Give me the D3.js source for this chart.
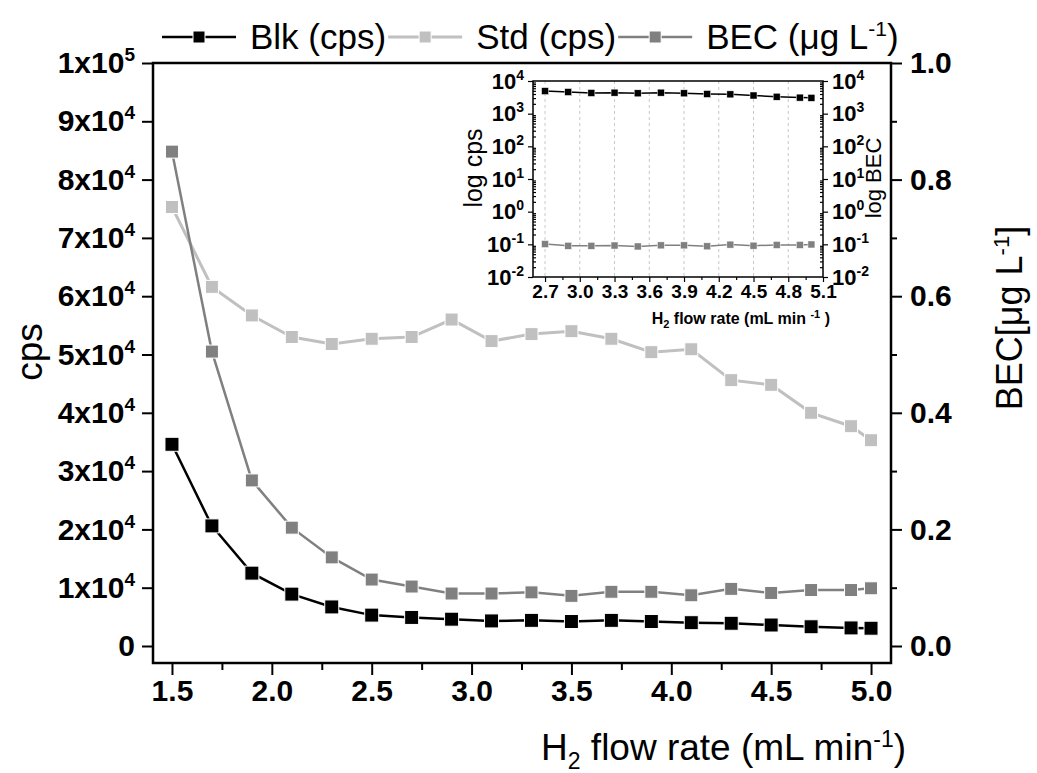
<!DOCTYPE html>
<html>
<head>
<meta charset="utf-8">
<script src="https://cdn.jsdelivr.net/npm/d3@7"></script>
<style>
  body { margin: 0; background: #fff; }
  text { font-family: "Liberation Sans", Arial, sans-serif; }
</style>
</head>
<body>
<div id="chart"></div>
<script>
// data
const flow = [1.5, 1.7, 1.9, 2.1, 2.3, 2.5, 2.7, 2.9, 3.1, 3.3, 3.5, 3.7, 3.9, 4.1, 4.3, 4.5, 4.7, 4.9, 5.0];
const blk = [34600, 20600, 12500, 8900, 6700, 5300, 4900, 4600, 4300, 4400, 4200, 4400, 4200, 4000, 3900, 3600, 3300, 3100, 3050];
const std = [75300, 61600, 56700, 53000, 51800, 52700, 53000, 56000, 52300, 53500, 54000, 52700, 50400, 50900, 45600, 44800, 40000, 37700, 35300];
const bec = [0.848, 0.505, 0.284, 0.203, 0.152, 0.114, 0.102, 0.090, 0.090, 0.092, 0.086, 0.093, 0.093, 0.087, 0.098, 0.091, 0.096, 0.096, 0.099];

const xTicks = [1.5, 2.0, 2.5, 3.0, 3.5, 4.0, 4.5, 5.0];
const cpsTicks = [0, 1e4, 2e4, 3e4, 4e4, 5e4, 6e4, 7e4, 8e4, 9e4, 1e5];
const becTicks = [0, 0.2, 0.4, 0.6, 0.8, 1.0];
const insetXTicks = [2.7, 3.0, 3.3, 3.6, 3.9, 4.2, 4.5, 4.8, 5.1];
const insetYTicks = [1e-2, 1e-1, 1e0, 1e1, 1e2, 1e3, 1e4];
const insetFrom = 6; // inset starts at 2.7

const W = 1037, H = 773;
const frame = { left: 153, right: 891, top: 63, bottom: 663 };

const svg = d3.select("#chart")
              .append("svg")
              .attr("width", W)
              .attr("height", H);

const x = d3.scaleLinear().domain([1.405, 5.1]).range([frame.left, frame.right]);
const y = d3.scaleLinear().domain([-2916, 100000]).range([frame.bottom, frame.top]);
const yR = d3.scaleLinear().domain([-0.02916, 1.0]).range([frame.bottom, frame.top]);

// write "ax10^b" style labels with a real superscript
function supLabel(sel, base, exp, supSize, shift) {
  sel.text(base);
  if (exp !== null)
    sel.append("tspan")
       .attr("dy", -shift)
       .attr("font-size", supSize)
       .text(exp);
}

function styleAxis(g, size, weight) {
  g.select(".domain").remove();
  g.selectAll(".tick line").attr("stroke", "#000").attr("stroke-width", 2);
  g.selectAll(".tick text")
   .attr("font-size", size)
   .attr("font-weight", weight)
   .attr("fill", "#000");
}

// ---- main axes
const gx = svg.append("g")
              .attr("transform", `translate(0,${frame.bottom})`)
              .call(d3.axisBottom(x).tickValues(xTicks).tickSize(12).tickPadding(5)
                                   .tickFormat(d3.format(".1f")));
styleAxis(gx, 30, "bold");

svg.append("g")
   .attr("transform", `translate(0,${frame.bottom})`)
   .call(d3.axisBottom(x).tickValues(d3.range(1.75, 5.0, 0.5)).tickSize(7).tickFormat(""))
   .call(g => styleAxis(g, 30, "bold"));

const gy = svg.append("g")
              .attr("transform", `translate(${frame.left},0)`)
              .call(d3.axisLeft(y).tickValues(cpsTicks).tickSize(11).tickPadding(7));
styleAxis(gy, 30, "bold");
gy.selectAll(".tick text").each(function(d) {
  const t = d3.select(this);
  if (d === 0) t.text("0");
  else if (d === 1e5) supLabel(t, "1x10", "5", 19, 12);
  else supLabel(t, `${d / 1e4}x10`, "4", 19, 12);
});

const gyR = svg.append("g")
               .attr("transform", `translate(${frame.right},0)`)
               .call(d3.axisRight(yR).tickValues(becTicks).tickSize(11).tickPadding(8)
                                     .tickFormat(d3.format(".1f")));
styleAxis(gyR, 30, "bold");

svg.append("g")
   .attr("transform", `translate(${frame.right},0)`)
   .call(d3.axisRight(yR).tickValues([0.1, 0.3, 0.5, 0.7, 0.9]).tickSize(6).tickFormat(""))
   .call(g => styleAxis(g, 30, "bold"));

svg.append("rect")
   .attr("x", frame.left)
   .attr("y", frame.top)
   .attr("width", frame.right - frame.left)
   .attr("height", frame.bottom - frame.top)
   .attr("fill", "none")
   .attr("stroke", "#000")
   .attr("stroke-width", 2.5);

// ---- axis titles
svg.append("text")
   .attr("transform", "translate(42,352) rotate(-90)")
   .attr("text-anchor", "middle")
   .attr("font-size", 37)
   .text("cps");

const rt = svg.append("text")
              .attr("transform", "translate(1022,318) rotate(-90)")
              .attr("text-anchor", "middle")
              .attr("font-size", 36)
              .text("BEC[\u03bcg L");
rt.append("tspan").attr("dy", -13).attr("font-size", 22).text("-1");
rt.append("tspan").attr("dy", 13).text("]");

const xt = svg.append("text")
              .attr("x", 906)
              .attr("y", 760)
              .attr("text-anchor", "end")
              .attr("font-size", 37)
              .text("H");
xt.append("tspan").attr("dy", 9).attr("font-size", 23).text("2");
xt.append("tspan").attr("dy", -9).text(" flow rate (mL min");
xt.append("tspan").attr("dy", -13).attr("font-size", 23).text("-1");
xt.append("tspan").attr("dy", 13).text(")");

// ---- series
const series = [
  { name: "Blk (cps)", values: blk, scale: y, color: "#000000", width: 2.5, size: 14 },
  { name: "Std (cps)", values: std, scale: y, color: "#c0c0c0", width: 3, size: 13 },
  { name: "BEC", values: bec, scale: yR, color: "#808080", width: 2.5, size: 13 }
];

series.forEach(s => {
  const pts = flow.map((f, i) => [f, s.values[i]]);
  svg.append("path")
     .datum(pts)
     .attr("fill", "none")
     .attr("stroke", s.color)
     .attr("stroke-width", s.width)
     .attr("d", d3.line().x(d => x(d[0])).y(d => s.scale(d[1])));
  svg.append("g")
     .selectAll("rect")
     .data(pts)
     .join("rect")
     .attr("x", d => x(d[0]) - s.size / 2)
     .attr("y", d => s.scale(d[1]) - s.size / 2)
     .attr("width", s.size)
     .attr("height", s.size)
     .attr("fill", s.color)
     .attr("stroke", "#fff")
     .attr("stroke-width", 1);
});

// ---- legend
let lx = 162;
const ly = 37;
series.forEach((s, i) => {
  const g = svg.append("g");
  g.append("line")
   .attr("x1", lx).attr("x2", lx + 74)
   .attr("y1", ly).attr("y2", ly)
   .attr("stroke", s.color).attr("stroke-width", s.width);
  g.append("rect")
   .attr("x", lx + 37 - 6).attr("y", ly - 6)
   .attr("width", 12).attr("height", 12)
   .attr("fill", s.color).attr("stroke", "#fff").attr("stroke-width", 1);
  const t = g.append("text")
             .attr("x", lx + 88)
             .attr("y", ly + 12)
             .attr("font-size", 35);
  if (i < 2) t.text(s.name);
  else {
    t.text("BEC (\u03bcg L");
    t.append("tspan").attr("dy", -13).attr("font-size", 21).text("-1");
    t.append("tspan").attr("dy", 13).text(")");
  }
  lx = lx + 88 + t.node().getComputedTextLength() + 2;
});

// ---- inset
const inset = { left: 533, right: 823, top: 81, bottom: 277 };
const xi = d3.scaleLinear().domain([2.596, 5.1]).range([inset.left, inset.right]);
const yi = d3.scaleLog().domain([1e-2, 1e4]).range([inset.bottom, inset.top]);

svg.append("g")
   .selectAll("line")
   .data(insetXTicks.slice(0, -1))
   .join("line")
   .attr("x1", d => xi(d)).attr("x2", d => xi(d))
   .attr("y1", inset.top).attr("y2", inset.bottom)
   .attr("stroke", "#c8c8c8")
   .attr("stroke-width", 1)
   .attr("stroke-dasharray", "3,3");

const minorLog = [];
for (let e = -2; e < 4; e++)
  for (let m = 2; m < 10; m++) minorLog.push(m * Math.pow(10, e));

function thin(g, size, weight) {
  g.select(".domain").remove();
  g.selectAll(".tick line").attr("stroke", "#000").attr("stroke-width", 1.2);
  g.selectAll(".tick text")
   .attr("font-size", size)
   .attr("font-weight", weight)
   .attr("fill", "#000");
}

const gxi = svg.append("g")
               .attr("transform", `translate(0,${inset.bottom})`)
               .call(d3.axisBottom(xi).tickValues(insetXTicks).tickSize(5).tickPadding(3)
                                      .tickFormat(d3.format(".1f")));
thin(gxi, 19, "bold");
svg.append("g")
   .attr("transform", `translate(0,${inset.bottom})`)
   .call(d3.axisBottom(xi).tickValues(d3.range(2.85, 5.0, 0.3)).tickSize(3).tickFormat(""))
   .call(g => thin(g, 19, "bold"));

[["left", inset.left, d3.axisLeft], ["right", inset.right, d3.axisRight]].forEach(([side, px, ax]) => {
  const g = svg.append("g")
               .attr("transform", `translate(${px},0)`)
               .call(ax(yi).tickValues(insetYTicks).tickSize(5).tickPadding(4).tickFormat(""));
  thin(g, 22, "bold");
  g.selectAll(".tick text").each(function(d) {
    supLabel(d3.select(this), "10", String(Math.round(Math.log10(d))), 14, 9);
  });
  svg.append("g")
     .attr("transform", `translate(${px},0)`)
     .call(ax(yi).tickValues(minorLog).tickSize(-3).tickFormat(""))
     .call(g => thin(g, 10, "normal"));
});

svg.append("rect")
   .attr("x", inset.left)
   .attr("y", inset.top)
   .attr("width", inset.right - inset.left)
   .attr("height", inset.bottom - inset.top)
   .attr("fill", "none")
   .attr("stroke", "#000")
   .attr("stroke-width", 1.5);

const insetSeries = [
  { values: blk.slice(insetFrom), color: "#000", size: 7 },
  { values: bec.slice(insetFrom), color: "#808080", size: 7 }
];
insetSeries.forEach(s => {
  const pts = flow.slice(insetFrom).map((f, i) => [f, s.values[i]]);
  svg.append("path")
     .datum(pts)
     .attr("fill", "none")
     .attr("stroke", s.color)
     .attr("stroke-width", 1.5)
     .attr("d", d3.line().x(d => xi(d[0])).y(d => yi(d[1])));
  svg.append("g")
     .selectAll("rect")
     .data(pts)
     .join("rect")
     .attr("x", d => xi(d[0]) - s.size / 2)
     .attr("y", d => yi(d[1]) - s.size / 2)
     .attr("width", s.size)
     .attr("height", s.size)
     .attr("fill", s.color)
     .attr("stroke", "#fff")
     .attr("stroke-width", 0.5);
});

svg.append("text")
   .attr("transform", "translate(482,168) rotate(-90)")
   .attr("text-anchor", "middle")
   .attr("font-size", 25)
   .text("log cps");

svg.append("text")
   .attr("transform", "translate(881,178) rotate(-90)")
   .attr("text-anchor", "middle")
   .attr("font-size", 22)
   .text("log BEC");

const it = svg.append("text")
              .attr("x", 830)
              .attr("y", 324)
              .attr("text-anchor", "end")
              .attr("font-size", 16)
              .attr("font-weight", "bold")
              .text("H");
it.append("tspan").attr("dy", 4).attr("font-size", 11).text("2");
it.append("tspan").attr("dy", -4).text(" flow rate (mL min ");
it.append("tspan").attr("dy", -6).attr("font-size", 11).text("-1");
it.append("tspan").attr("dy", 6).text(" )");
</script>
</body>
</html>
